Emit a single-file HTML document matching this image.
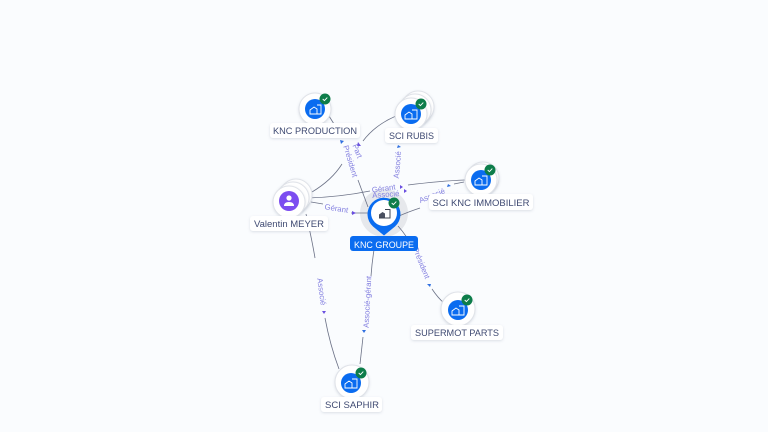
<!DOCTYPE html>
<html><head><meta charset="utf-8"><style>
html,body{margin:0;padding:0;background:#fafcfe;width:768px;height:432px;overflow:hidden}
svg{display:block;font-family:"Liberation Sans",sans-serif}
.n{font-size:9.6px;fill:#3f4a72;text-anchor:middle}
.e{font-size:7.8px;fill:#8480e0;text-anchor:middle}
.l{fill:none;stroke:#6b7186;stroke-width:.8}
.a{fill:#6a4fe0}
.b{fill:#2f6fe0}
.lab{fill:#fff;filter:url(#s)}
.c{fill:#fff;stroke:#dfe2e8;stroke-width:1;filter:url(#s)}
.i{fill:none;stroke:#fff;stroke-width:.9}
</style></head><body>
<svg width="768" height="432" viewBox="0 0 768 432" xmlns="http://www.w3.org/2000/svg">
<defs><filter id="s" x="-30%" y="-30%" width="160%" height="160%"><feDropShadow dx="0" dy="1" stdDeviation="1.2" flood-color="#8a94a8" flood-opacity=".28"/></filter></defs>
<rect width="768" height="432" fill="#fafcfe"/>

<!-- halo behind connectors -->
<circle cx="384" cy="213" r="24" fill="#e6e8ec"/>

<!-- connectors -->
<path class="l" d="M329 116 L334 124"/>
<path class="l" d="M358 180 L368 207"/>
<path class="l" d="M312 192 Q332 180 342 164"/>
<path class="l" d="M363 141 Q375 125 396 116"/>
<path class="l" d="M308 198 Q340 197 370 191"/>
<path class="l" d="M408 185 Q440 181 465 180"/>
<path class="l" d="M311 202 L323 204 M351 213 L368 213"/>
<path class="l" d="M399 216 Q408 212 420 208"/>
<path class="l" d="M454 184 L464 182"/>
<path class="l" d="M306 214 Q312 240 315 258"/>
<path class="l" d="M325 318 Q330 345 339 369"/>
<path class="l" d="M374 250 Q372 262 371 276"/>
<path class="l" d="M363 337 L360 364"/>
<path class="l" d="M398 226 Q407 236 412 247"/>
<path class="l" d="M432 289 Q438 298 444 303"/>

<!-- arrowheads -->
<path class="b" d="M340 140l4 1-3 3z"/>
<path class="a" d="M358 142l3 4-4 0z"/>
<path class="b" d="M398 145l3 2-4 1z"/>
<path class="a" d="M400 185l3 2-3 2z"/>
<path class="a" d="M404 189l3 2-3 2z"/>
<path class="a" d="M352 211l4 2-4 2z"/>
<path class="b" d="M448 184l3 2-4 1z"/>
<path class="a" d="M322 311l4 0-2 3z"/>
<path class="b" d="M362 330l4 0-2 3z"/>
<path class="b" d="M427 284l4 0-1 3z"/>

<!-- connector labels -->
<text class="e" transform="translate(348 162) rotate(73)">Président</text>
<text class="e" transform="translate(355 152) rotate(68)">Part</text>
<text class="e" transform="translate(400 165) rotate(-85)">Associé</text>
<text class="e" x="384" y="191" transform="rotate(-8 384 191)">Gérant</text>
<text class="e" x="386" y="197" transform="rotate(-4 386 197)">Associé</text>
<text class="e" transform="translate(336 211) rotate(9)">Gérant</text>
<text class="e" transform="translate(433 198) rotate(-22)">Associé</text>
<text class="e" transform="translate(319 292) rotate(82)">Associé</text>
<text class="e" transform="translate(370 302) rotate(-87)">Associé-gérant</text>
<text class="e" transform="translate(419 264) rotate(68)">Président</text>

<!-- KNC PRODUCTION -->
<circle class="c" cx="315" cy="109" r="16"/>
<circle cx="315" cy="109" r="10" fill="#0a6cf0"/>
<path class="i" d="M310 114v-4l4-3 3 2v5zM317 105h4v9h-4"/>
<circle cx="325" cy="99" r="5.500" fill="#0d7d4a"/><path d="M322.700 99l1.700 1.600 2.900-3" fill="none" stroke="#fff" stroke-width=".9"/>
<rect class="lab" x="270" y="123" width="90" height="15" rx="3"/>
<text class="n" x="315" y="134" textLength="84" lengthAdjust="spacingAndGlyphs">KNC PRODUCTION</text>

<!-- SCI RUBIS -->
<circle class="c" cx="418" cy="107" r="16"/>
<circle class="c" cx="415" cy="110" r="16"/>
<circle class="c" cx="411" cy="114" r="16"/>
<circle cx="411" cy="114" r="10" fill="#0a6cf0"/>
<path class="i" d="M405 119v-4l4-3 3 2v5zM412 110h5v9h-5"/>
<circle cx="421" cy="104" r="5.500" fill="#0d7d4a"/><path d="M418.700 104l1.700 1.600 2.900-3" fill="none" stroke="#fff" stroke-width=".9"/>
<rect class="lab" x="385" y="128" width="53" height="15" rx="3"/>
<text class="n" x="411.500" y="139" textLength="45" lengthAdjust="spacingAndGlyphs">SCI RUBIS</text>

<!-- SCI KNC IMMOBILIER -->
<circle class="c" cx="483" cy="178" r="16"/>
<circle class="c" cx="481" cy="180" r="16"/>
<circle cx="481" cy="180" r="10" fill="#0a6cf0"/>
<path class="i" d="M475 185v-4l4-3 3 2v5zM482 176h5v9h-5"/>
<circle cx="490" cy="170" r="5.500" fill="#0d7d4a"/><path d="M487.700 170l1.700 1.600 2.900-3" fill="none" stroke="#fff" stroke-width=".9"/>
<rect class="lab" x="429" y="194" width="104" height="16" rx="3"/>
<text class="n" x="481" y="206" textLength="97" lengthAdjust="spacingAndGlyphs">SCI KNC IMMOBILIER</text>

<!-- Valentin MEYER -->
<circle class="c" cx="296" cy="195" r="16"/>
<circle class="c" cx="293" cy="198" r="16"/>
<circle class="c" cx="289" cy="202" r="16"/>
<circle cx="289" cy="201" r="10" fill="#7c4df0"/>
<circle cx="289" cy="198" r="2.600" fill="#fff"/><path d="M284 206q0-4 5-4t5 4z" fill="#fff"/>
<rect class="lab" x="250" y="216" width="78" height="15" rx="3"/>
<text class="n" x="289" y="227" textLength="70" lengthAdjust="spacingAndGlyphs">Valentin MEYER</text>

<!-- KNC GROUPE -->
<path d="M384 235.500 L373 226.500 A16.500 16.500 0 1 1 395 226.500 Z" fill="#0a6cf0"/>
<circle cx="384" cy="213" r="13" fill="#fff"/>
<path d="M379 218v-3.500l3.500-2.500 2.500 1.500v4.500z" fill="#4a5060"/>
<path d="M385 209.500h5v8.500h-5M379 218h11" fill="none" stroke="#3f4552" stroke-width="1"/>
<circle cx="394" cy="203" r="5.500" fill="#0d7d4a"/><path d="M391.700 203l1.700 1.600 2.900-3" fill="none" stroke="#fff" stroke-width=".9"/>
<rect x="350" y="236" width="68" height="15" rx="3" fill="#0a6cf0"/>
<text class="n" x="384" y="248" style="fill:#fff" textLength="60" lengthAdjust="spacingAndGlyphs">KNC GROUPE</text>

<!-- SUPERMOT PARTS -->
<circle class="c" cx="458" cy="309" r="17"/>
<circle cx="458" cy="310" r="10" fill="#0a6cf0"/>
<path class="i" d="M452 315v-4l4-3 3 2v5zM459 306h5v9h-5"/>
<circle cx="467" cy="300" r="5.500" fill="#0d7d4a"/><path d="M464.700 300l1.700 1.600 2.900-3" fill="none" stroke="#fff" stroke-width=".9"/>
<rect class="lab" x="411" y="325" width="92" height="15" rx="3"/>
<text class="n" x="457" y="336" textLength="84" lengthAdjust="spacingAndGlyphs">SUPERMOT PARTS</text>

<!-- SCI SAPHIR -->
<circle class="c" cx="352" cy="382" r="17"/>
<circle cx="351" cy="383" r="10" fill="#0a6cf0"/>
<path class="i" d="M345 388v-4l4-3 3 2v5zM352 379h5v9h-5"/>
<circle cx="361" cy="373" r="5.500" fill="#0d7d4a"/><path d="M358.700 373l1.700 1.600 2.900-3" fill="none" stroke="#fff" stroke-width=".9"/>
<rect class="lab" x="321" y="397" width="61" height="15" rx="3"/>
<text class="n" x="352" y="408" textLength="54" lengthAdjust="spacingAndGlyphs">SCI SAPHIR</text>
</svg>
</body></html>
